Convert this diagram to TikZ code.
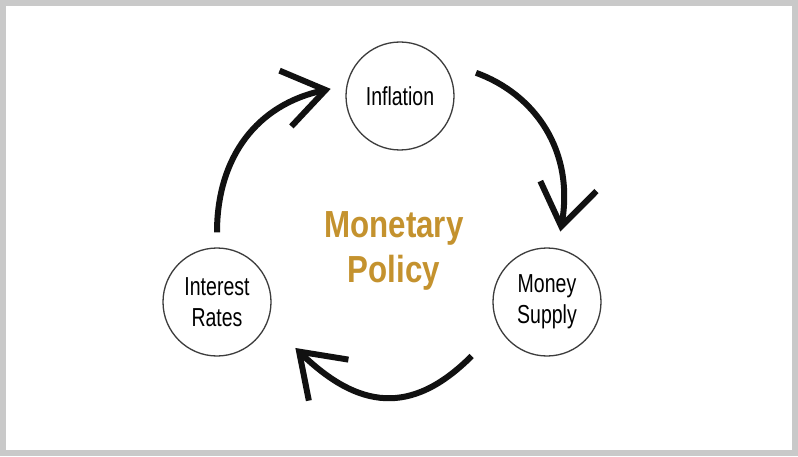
\documentclass[tikz,border=0pt]{standalone}
\usepackage{fontspec}
\setmainfont{Liberation Sans}
\newfontfamily\circfont[FakeStretch=0.75]{Liberation Sans}
\newfontfamily\titlefont[FakeStretch=0.83]{Liberation Sans}
\usepackage{xcolor}
\definecolor{frameGray} {HTML}{C9C9C9}
\definecolor{ringGray}  {HTML}{3C3C3C}
\definecolor{policyGold}{HTML}{C4922E}
\definecolor{arrowInk}  {HTML}{111111}
\usetikzlibrary{arrows.meta, positioning, calc}

\begin{document}
\begin{tikzpicture}[
    x=1pt, y=1pt,
    ring/.style={draw=ringGray, circle, line width=1.3pt, minimum size=108pt,
                 inner sep=0pt, align=center,
                 font=\circfont\fontsize{26}{31}\selectfont},
    title/.style={font=\titlefont\bfseries\fontsize{37.7}{45}\selectfont,
                  text=policyGold, align=center},
    cycarr/.style={arrowInk, line width=6pt,
                   -{Straight Barb[length=41pt, width=57pt, sharp]}}
]
% frame
\fill[frameGray] (0,0) rectangle (798,456);
\fill[white] (6,6) rectangle (792,450);
\useasboundingbox (0,0) rectangle (798,456);
% the three stages
\node[ring] (infl)  at (400,360) {Inflation};
\node[ring] (irate) at (217,154) {Interest\\Rates};
\node[ring] (msup)  at (547,154) {Money\\Supply};
\node[title] (policy) at (394,205) {Monetary\\Policy};
% cycle arrows
\draw[cycarr, shorten <=15pt, shorten >=16pt]
    (irate.north) to[out=90, in=192, looseness=1.12] (infl.169);
\draw[cycarr, shorten <=37pt, shorten >=17pt]
    (infl.41) to[out=-20, in=80, looseness=1.15] (msup.79);
\draw[cycarr, shorten <=39pt, shorten >=38pt]
    (msup.209) to[out=225, in=316, looseness=1.38] (irate.-21);
\end{tikzpicture}
\end{document}
